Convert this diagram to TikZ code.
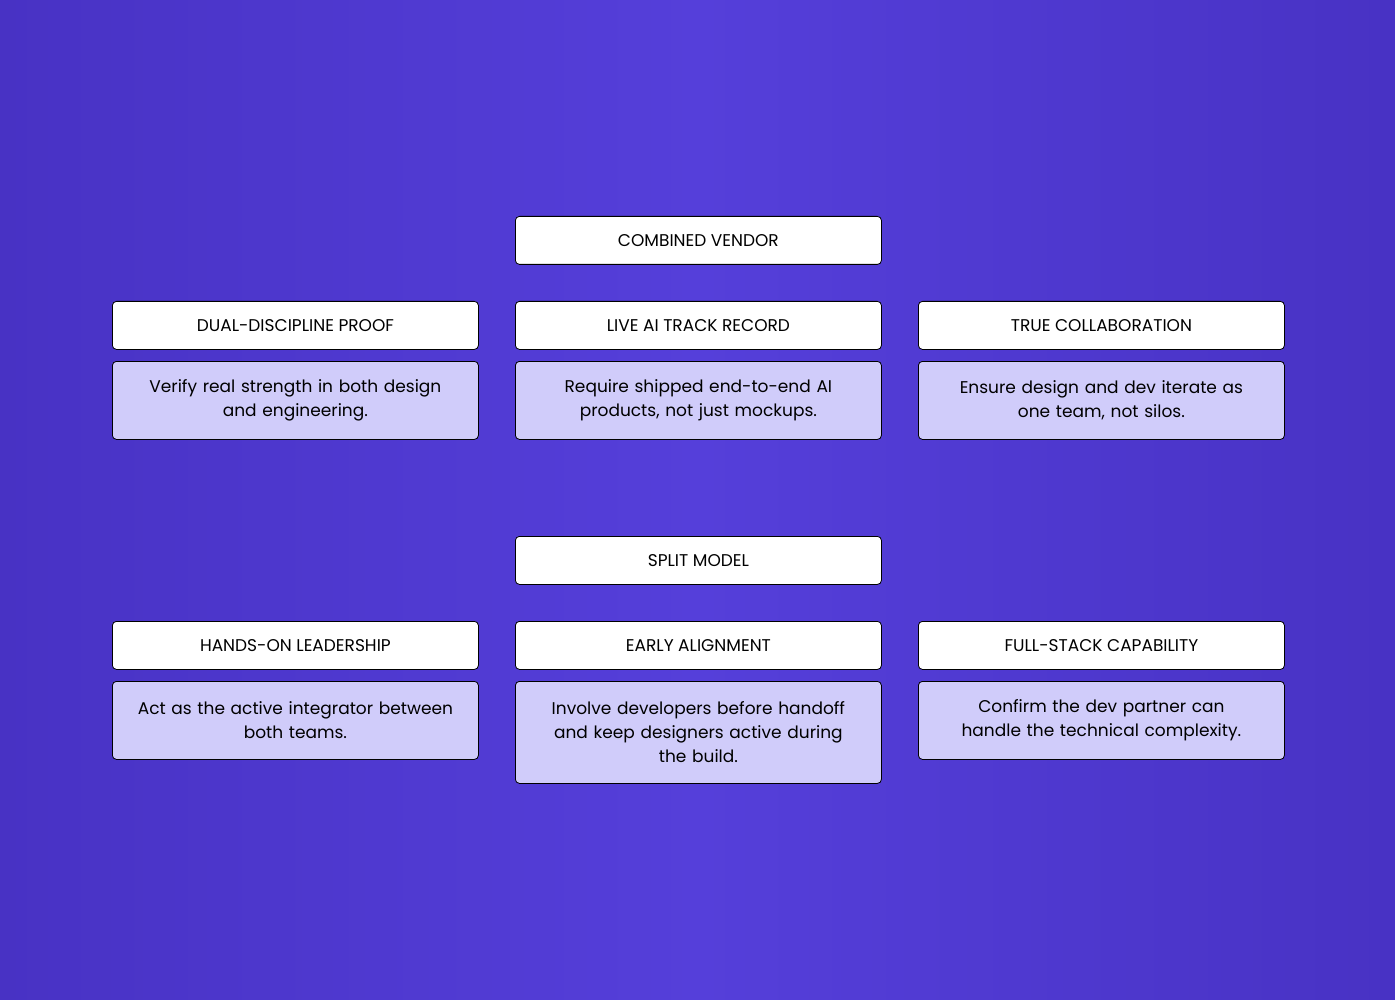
\documentclass[tikz,border=0pt]{standalone}
\usepackage{fontspec}
\setmainfont{Poppins}
\begin{document}
\begin{tikzpicture}[x=1pt,y=-1pt,
 hd/.style={draw=black,line width=0.8pt,fill=white,rounded corners=4pt,minimum width=366pt,minimum height=48pt,font=\fontsize{17}{20}\selectfont,anchor=north west,inner sep=0pt},
 ds/.style={draw=black,line width=0.8pt,fill=desc,rounded corners=4pt,minimum width=366pt,text width=340pt,align=center,font=\fontsize{17}{24}\selectfont,anchor=north west,inner sep=0pt}]
\definecolor{desc}{HTML}{D0CCFA}
\definecolor{bgA}{HTML}{4832C4}
\definecolor{bgB}{HTML}{553FDA}
\useasboundingbox (0,0) rectangle (1395,1000);
\shade[left color=bgA,right color=bgA,middle color=bgB] (0,0) rectangle (1395,1000);
\node[hd] (cv) at (515,216) {COMBINED VENDOR};
\node[hd] (h1) at (112,301) {DUAL-DISCIPLINE PROOF};
\node[hd] (h2) at (515,301) {LIVE AI TRACK RECORD};
\node[hd] (h3) at (918,301) {TRUE COLLABORATION};
\node[ds,minimum height=78pt] (d1) at (112,361) {Verify real strength in both design\\and engineering.};
\node[ds,minimum height=78pt] (d2) at (515,361) {Require shipped end-to-end AI\\products, not just mockups.};
\node[ds,minimum height=78pt] (d3) at (918,361) {Ensure design and dev iterate as\\one team, not silos.};
\node[hd] (sm) at (515,536) {SPLIT MODEL};
\node[hd] (h4) at (112,621) {HANDS-ON LEADERSHIP};
\node[hd] (h5) at (515,621) {EARLY ALIGNMENT};
\node[hd] (h6) at (918,621) {FULL-STACK CAPABILITY};
\node[ds,minimum height=78pt] (d4) at (112,681) {Act as the active integrator between\\both teams.};
\node[ds,minimum height=102pt] (d5) at (515,681) {Involve developers before handoff\\and keep designers active during\\the build.};
\node[ds,minimum height=78pt] (d6) at (918,681) {Confirm the dev partner can\\handle the technical complexity.};
\end{tikzpicture}
\end{document}
